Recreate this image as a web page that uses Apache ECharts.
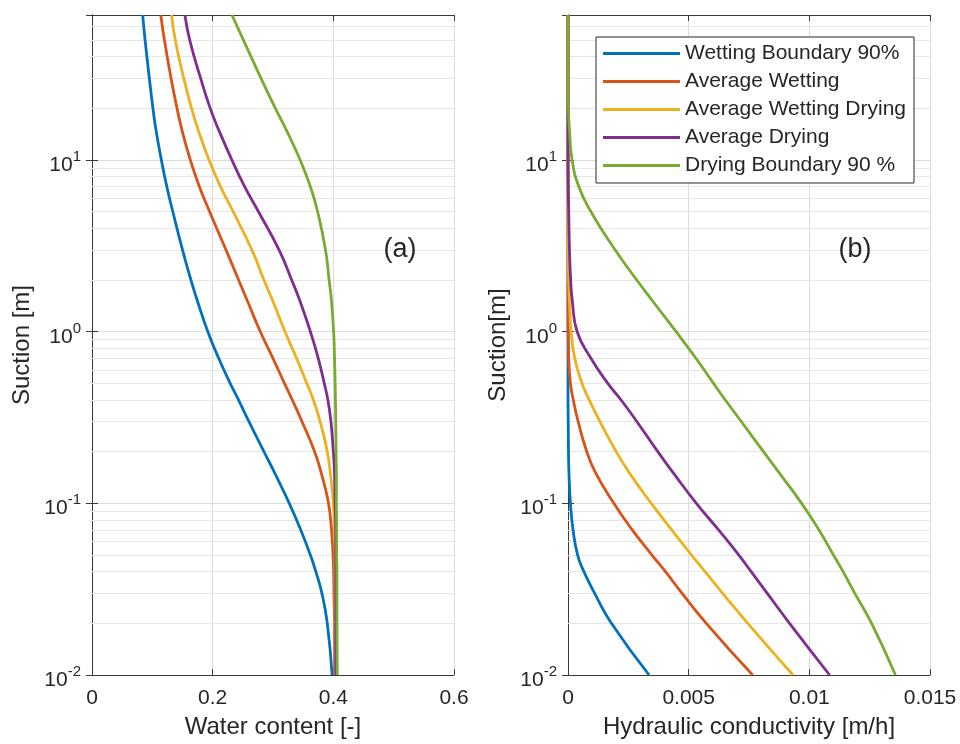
<!DOCTYPE html>
<html><head><meta charset="utf-8">
<script src="https://cdn.jsdelivr.net/npm/echarts@6/dist/echarts.min.js"></script>
<style>html,body{margin:0;padding:0;background:#fff}#c{width:960px;height:744px}</style>
</head><body><div id="c"></div>
<script>
// ---------- data ----------
const suction = [0.01,0.02,0.03,0.04,0.05,0.07,0.1,0.15,0.2,0.3,0.4,0.5,0.7,1,1.5,2,3,5,7,10,15,20,30,50,70];
const seriesNames = ['Wetting Boundary 90%','Average Wetting','Average Wetting Drying','Average Drying','Drying Boundary 90 %'];
const seriesColors = ['#0072BD','#D95319','#EDB120','#7E2F8E','#77AC30'];

// (a) water content [-]
const wcWettingBoundary = [0.398,0.390,0.381,0.371,0.362,0.346,0.327,0.303,0.285,0.260,0.243,0.229,0.210,0.192,0.175,0.164,0.150,0.134,0.124,0.115,0.106,0.101,0.095,0.088,0.084];
const wcAvgWetting      = [0.402,0.402,0.401,0.4005,0.3995,0.397,0.392,0.380,0.369,0.348,0.332,0.319,0.300,0.279,0.258,0.243,0.222,0.195,0.178,0.163,0.149,0.141,0.131,0.120,0.114];
const wcAvgWetDry       = [0.403,0.403,0.403,0.403,0.403,0.402,0.400,0.395,0.390,0.378,0.367,0.356,0.339,0.320,0.300,0.285,0.265,0.234,0.213,0.194,0.176,0.165,0.152,0.138,0.132];
const wcAvgDrying       = [0.404,0.404,0.404,0.404,0.404,0.404,0.403,0.402,0.400,0.396,0.391,0.385,0.375,0.362,0.345,0.331,0.310,0.276,0.253,0.232,0.210,0.196,0.180,0.162,0.154];
const wcDryingBoundary  = [0.4065,0.406,0.406,0.406,0.4055,0.4055,0.405,0.405,0.4045,0.404,0.4035,0.403,0.402,0.4005,0.397,0.393,0.387,0.374,0.362,0.345,0.322,0.304,0.280,0.251,0.232];

// (b) hydraulic conductivity [m/h]
const kWettingBoundary = [0.00336,0.00180,0.00110,0.00066,0.00040,0.00021,0.00010,0.00004,0.00002,0.00001,0,0,0,0,0,0,0,0,0,0,0,0,0,0,0];
const kAvgWetting      = [0.00765,0.00573,0.00472,0.00404,0.00348,0.00266,0.00190,0.00115,0.00078,0.00042,0.00022,0.00010,0.00003,0.00001,0,0,0,0,0,0,0,0,0,0,0];
const kAvgWetDry       = [0.00932,0.00745,0.00640,0.00568,0.00512,0.00430,0.00345,0.00255,0.00200,0.00132,0.00088,0.00058,0.00028,0.00013,0.00006,0.00003,0.00001,0,0,0,0,0,0,0,0];
const kAvgDrying       = [0.01084,0.00918,0.00825,0.00759,0.00708,0.00624,0.00532,0.00437,0.00372,0.00285,0.00220,0.00165,0.00095,0.00038,0.00018,0.00011,0.00006,0.00003,0.00001,0,0,0,0,0,0];
const kDryingBoundary  = [0.01357,0.01258,0.01188,0.01140,0.01100,0.01040,0.00968,0.00876,0.00810,0.00718,0.00652,0.00603,0.00530,0.00448,0.00352,0.00285,0.00195,0.00095,0.00045,0.00017,0.00006,0.00002,0.00001,0,0];

const xTicksA = [0, 0.2, 0.4, 0.6];
const xTicksB = [0, 0.005, 0.01, 0.015];
const suctionMin = 0.01, suctionMax = 70;
const decades = [-2, -1, 0, 1];
const minorMultipliers = [2,3,4,5,6,7,8,9];
const panelLabels = ['(a)', '(b)'];
const xNames = ['Water content [-]', 'Hydraulic conductivity [m/h]'];
const yNames = ['Suction [m]', 'Suction[m]'];

// ---------- chart ----------
const FONT = "'Liberation Sans', Arial, Helvetica, sans-serif";
const TXT = '#262626';
const AX = '#3a3a3a';
const wcSets = [wcWettingBoundary, wcAvgWetting, wcAvgWetDry, wcAvgDrying, wcDryingBoundary];
const kSets = [kWettingBoundary, kAvgWetting, kAvgWetDry, kAvgDrying, kDryingBoundary];

const minorVals = [];
decades.forEach(d => minorMultipliers.forEach(k => {
  const v = +(k * Math.pow(10, d)).toPrecision(6);
  if (v > suctionMin && v < suctionMax) minorVals.push(v);
}));

function logLabel(v) {
  const e = Math.log10(v);
  const r = Math.round(e);
  if (Math.abs(e - r) > 1e-6) return '';
  return '{b|10}{s|' + r + '}';
}

const grids = [
  { left: 92, top: 15, width: 362, height: 660, show: false },
  { left: 568, top: 15, width: 362, height: 660, show: false }
];

const xAxes = [], yAxes = [];
[xTicksA, xTicksB].forEach((ticks, g) => {
  const min = ticks[0], max = ticks[ticks.length - 1], interval = ticks[1] - ticks[0];
  xAxes.push({
    type: 'value', gridIndex: g, position: 'bottom', min, max, interval,
    name: xNames[g], nameLocation: 'middle', nameGap: 40,
    nameTextStyle: { fontSize: 24, color: TXT, fontFamily: FONT },
    axisLine: { show: true, lineStyle: { color: AX, width: 1 } },
    axisTick: { show: true, inside: true, length: 6, lineStyle: { color: AX } },
    axisLabel: { fontSize: 21, color: TXT, fontFamily: FONT, margin: 13,
      formatter: v => String(+v.toPrecision(6)) },
    splitLine: { show: true, lineStyle: { color: '#dcdcdc', width: 1 } }
  });
  xAxes.push({
    type: 'value', gridIndex: g, position: 'top', min, max, interval,
    axisLine: { show: true, lineStyle: { color: AX, width: 1 } },
    axisTick: { show: true, inside: true, length: 6, lineStyle: { color: AX } },
    axisLabel: { show: false }, splitLine: { show: false }
  });
  yAxes.push({
    type: 'log', logBase: 10, gridIndex: g, position: 'left', min: suctionMin, max: suctionMax,
    name: yNames[g], nameLocation: 'middle', nameGap: 58,
    nameTextStyle: { fontSize: 24, color: TXT, fontFamily: FONT },
    axisLine: { show: true, lineStyle: { color: AX, width: 1 } },
    axisTick: { show: true, inside: true, length: 6, lineStyle: { color: AX } },
    axisLabel: { color: TXT, fontFamily: FONT, margin: 11, padding: [5, 0, 0, 0],
      formatter: logLabel,
      rich: {
        b: { fontSize: 21, color: TXT, fontFamily: FONT, verticalAlign: 'bottom', padding: [5, 0, 0, 0] },
        s: { fontSize: 15, color: TXT, fontFamily: FONT, verticalAlign: 'top' }
      } },
    splitLine: { show: true, lineStyle: { color: '#dcdcdc', width: 1 } }
  });
  yAxes.push({
    type: 'log', logBase: 10, gridIndex: g, position: 'right', min: suctionMin, max: suctionMax,
    axisLine: { show: true, lineStyle: { color: AX, width: 1 } },
    axisTick: { show: true, inside: true, length: 6, lineStyle: { color: AX } },
    axisLabel: { show: false }, splitLine: { show: false }
  });
});

const series = [];
[0, 1].forEach(g => {
  series.push({
    type: 'line', xAxisIndex: g * 2, yAxisIndex: g * 2, data: [], z: 1, silent: true,
    markLine: {
      z: 1, silent: true, symbol: ['none', 'none'], label: { show: false },
      lineStyle: { color: '#e6e6e6', width: 1, type: 'solid' },
      emphasis: { disabled: true },
      data: minorVals.map(v => ({ yAxis: v }))
    }
  });
  const sets = g === 0 ? wcSets : kSets;
  sets.forEach((vals, i) => {
    series.push({
      type: 'line', name: seriesNames[i], xAxisIndex: g * 2, yAxisIndex: g * 2,
      data: suction.map((s, j) => [vals[j], s]),
      symbol: 'none', showSymbol: false, smooth: 0.5, z: 3,
      lineStyle: { color: seriesColors[i], width: 2.8 },
      itemStyle: { color: seriesColors[i] }
    });
  });
});

const chart = echarts.init(document.getElementById('c'), null, { renderer: 'canvas' });
chart.setOption({
  backgroundColor: '#fff',
  animation: false,
  grid: grids,
  xAxis: xAxes,
  yAxis: yAxes,
  legend: {
    data: seriesNames, orient: 'vertical', left: 596, top: 37, z: 10,
    icon: 'rect', itemWidth: 77, itemHeight: 3, itemGap: 7,
    padding: [6, 8, 7, 7], borderColor: TXT, borderWidth: 1, backgroundColor: '#fff',
    textStyle: { fontSize: 21, color: TXT, fontFamily: FONT }
  },
  graphic: {
    z: 100,
    elements: [
      { type: 'text', z: 100, x: 400, y: 250, style: { text: panelLabels[0], fontSize: 27, fontFamily: FONT, fill: TXT, align: 'center', verticalAlign: 'middle' } },
      { type: 'text', z: 100, x: 855, y: 250, style: { text: panelLabels[1], fontSize: 27, fontFamily: FONT, fill: TXT, align: 'center', verticalAlign: 'middle' } }
    ]
  },
  series
});
</script></body></html>
